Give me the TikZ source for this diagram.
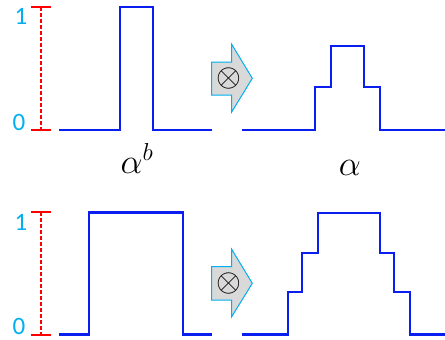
\RequirePackage{fix-cm}
\documentclass[tikz,border=0pt]{standalone}
\usepackage{fontspec}
\newfontfamily\labelfont{Carlito}
\usepackage{tikz}
\definecolor{skyblue}{RGB}{0,176,240}
\definecolor{sigblue}{RGB}{10,30,240}
\definecolor{scalered}{RGB}{255,0,0}
\definecolor{arrowgray}{RGB}{217,217,217}

\begin{document}
\begin{tikzpicture}[
    x=1pt, y=-1pt,
    signal/.style={sigblue, line width=2.2pt, line join=miter},
    scalebar/.style={scalered, line width=1.5pt, dash pattern=on 4pt off 2pt},
    scaletick/.style={scalered, line width=2pt},
    levellabel/.style={skyblue, font=\labelfont\fontsize{25}{25}\selectfont, inner sep=0pt},
    greek/.style={font=\fontsize{35}{40}\selectfont, inner sep=0pt},
    mixarrow/.style={draw=skyblue, fill=arrowgray, line width=1pt, line join=miter},
    mixsym/.style={font=\fontsize{32}{32}\selectfont, inner sep=0pt}
]
    \useasboundingbox (0,0) rectangle (445,340);

    % scale bars
    \draw[scalebar] (41,7) -- (41,130);
    \draw[scaletick] (31,7) -- (51,7);
    \draw[scaletick] (31,130) -- (51,130);
    \node[levellabel] (topone) at (21,16.5) {1};
    \node[levellabel] (topzero) at (19,122) {0};

    \draw[scalebar] (41,212) -- (41,334.5);
    \draw[scaletick] (31,212) -- (51,212);
    \draw[scaletick] (31,334.5) -- (51,334.5);
    \node[levellabel] (botone) at (21,222.5) {1};
    \node[levellabel] (botzero) at (19,326.5) {0};

    % top row
    \draw[signal] (59,130) -- (120,130) -- (120,7) -- (153,7) -- (153,130) -- (211.7,130);
    \draw[mixarrow] (211.7,62) -- (231.7,62) -- (231.7,44.3) -- (252.3,78.3)
        -- (231.7,112) -- (231.7,95) -- (211.7,95) -- cycle;
    \node[mixsym] (topmix) at (228.7,78.3) {$\otimes$};
    \draw[signal] (242.3,130) -- (315.3,130) -- (315.3,87.3) -- (330.7,87.3) -- (330.7,46)
        -- (364,46) -- (364,87.3) -- (379.7,87.3) -- (379.7,130) -- (446,130);

    \node[greek, anchor=base] (alphab) at (137,173) {$\alpha^{b}$};
    \node[greek, anchor=base] (alpha) at (350,175) {$\alpha$};

    % bottom row
    \draw[signal] (59,334.5) -- (89,334.5) -- (89,212.5) -- (183.3,212.5) -- (183.3,334.5) -- (211.7,334.5);
    \draw[mixarrow] (211.7,266.7) -- (231.7,266.7) -- (231.7,249.3) -- (252.3,283.3)
        -- (231.7,316.7) -- (231.7,300) -- (211.7,300) -- cycle;
    \node[mixsym] (botmix) at (228.7,283.3) {$\otimes$};
    \draw[signal] (242.3,334.5) -- (287.7,334.5) -- (287.7,292.3) -- (302.3,292.3) -- (302.3,253.3)
        -- (318.3,253.3) -- (318.3,213) -- (379.7,213) -- (379.7,253.3) -- (394.3,253.3)
        -- (394.3,292.3) -- (409.7,292.3) -- (409.7,334.5) -- (446,334.5);
\end{tikzpicture}
\end{document}
